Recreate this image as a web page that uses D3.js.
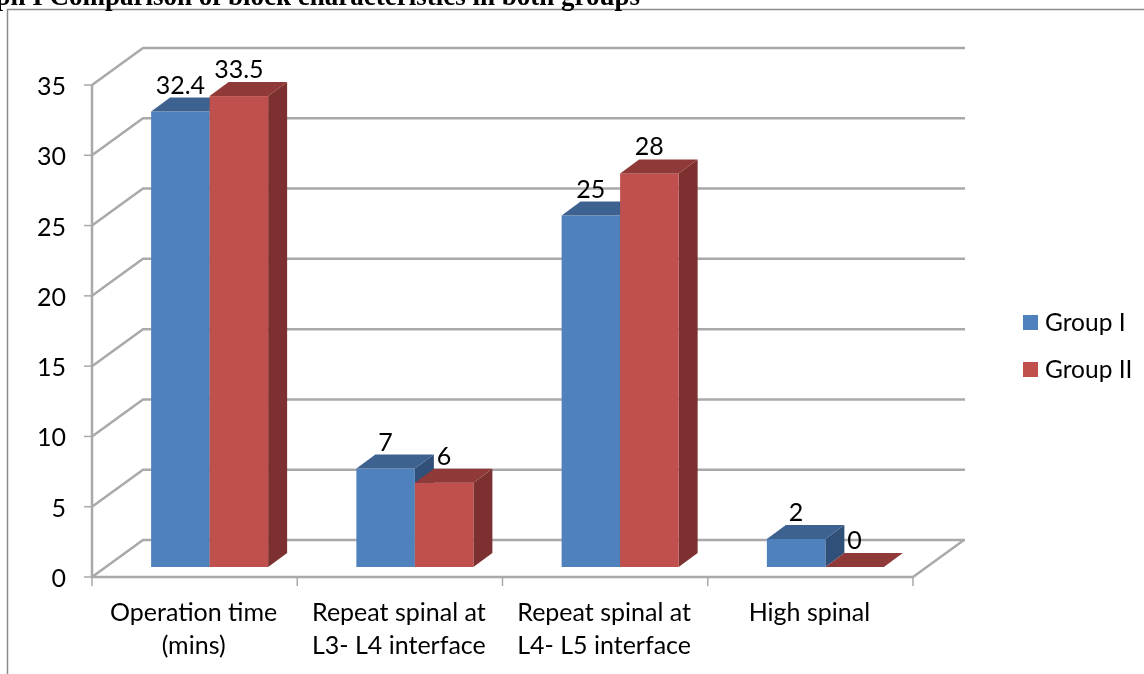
<!DOCTYPE html>
<html>
<head>
<meta charset="utf-8">
<script src="https://cdn.jsdelivr.net/npm/d3@7"></script>
<style>
html, body { margin: 0; padding: 0; background: #fff; overflow: hidden; }
svg { filter: blur(0.4px); }
text { font-family: Lato, "Open Sans", sans-serif; fill: #000; }
</style>
</head>
<body>
<svg id="chart" width="1144" height="674"></svg>
<script>
var categories = [['Operation time', '(mins)'], ['Repeat spinal at', 'L3- L4 interface'], ['Repeat spinal at', 'L4- L5 interface'], ['High spinal']];
var series = ['Group I', 'Group II'];
var groupI = [32.4, 7, 25, 2];
var groupII = [33.5, 6, 28, 0];
var ticks = [0, 5, 10, 15, 20, 25, 30, 35];

var colors = {
	'Group I': {front: '#4f81bd', top: '#3d6290', side: '#30507a'},
	'Group II': {front: '#c0504d', top: '#8f3a38', side: '#7c302f'}
};
var grid_col = '#a9a9a9';

var svg = d3.select('#chart');

// frame + title, both run off the page like in the scan
svg.append('path').attr('d', 'M7.5,674V9.5H1144').attr('fill', 'none').attr('stroke', '#8c8c8c').attr('stroke-width', 1.5);
svg.append('text').attr('x', 640).attr('y', 5).attr('text-anchor', 'end')
	.style('font-family', '"Liberation Serif", serif').style('font-weight', 'bold').style('font-size', '27px')
	.text('Graph I Comparison of block characteristics in both groups');

var x0 = d3.scaleBand().domain(d3.range(categories.length)).range([92, 913]);
var y = d3.scaleLinear().domain([0, 35]).range([577, 85]);
var x1 = d3.scaleBand().domain(series).range([0, x0.bandwidth()]).paddingOuter(0.754);

// depth of the 3d box, and of the bars sitting inside it
var wall_dx = 51, wall_dy = -37;
var bar_dx = 19, bar_dy = -14;
var bar_shift = 15, bar_lift = -10;

// side wall diagonals and back wall lines
var walls = svg.append('g').attr('fill', 'none').attr('stroke', grid_col).attr('stroke-width', 2.5);
walls.selectAll('path').data(ticks).enter().append('path')
	.attr('d', d => d3.line()([[92, y(d)], [92 + wall_dx, y(d) + wall_dy], [913 + wall_dx + 1, y(d) + wall_dy]]));
walls.append('path').attr('d', d3.line()([[913, y(0)], [913 + wall_dx, y(0) + wall_dy]]));

// axes
svg.append('path').attr('d', d3.line()([[92, y(35)], [92, y(0)], [913, y(0)]]))
	.attr('fill', 'none').attr('stroke', grid_col).attr('stroke-width', 2.5);
var tick_g = svg.append('g').attr('stroke', grid_col).attr('stroke-width', 1.5);
tick_g.selectAll('.ty').data(ticks).enter().append('line').attr('class', 'ty')
	.attr('x1', 84).attr('x2', 92).attr('y1', d => y(d)).attr('y2', d => y(d));
tick_g.selectAll('.tx').data(d3.range(categories.length + 1)).enter().append('line').attr('class', 'tx')
	.attr('x1', d => 92 + d * x0.step()).attr('x2', d => 92 + d * x0.step()).attr('y1', y(0)).attr('y2', 586);

svg.selectAll('.ylab').data(ticks).enter().append('text').attr('class', 'ylab')
	.attr('x', 66).attr('y', d => y(d) + 10).attr('text-anchor', 'end').style('font-size', '25px')
	.text(d => d);

// bars, back to front
var base = y(0) + bar_lift;
var per_unit = (y(0) - y(1));
function bar_data(name, vals) {
	return vals.map((v, i) => ({name: name, i: i, v: v}));
}
var bars = bar_data('Group I', groupI).concat(bar_data('Group II', groupII));
bars.sort((a, b) => a.i - b.i);
var w = x1.bandwidth();
var bar_g = svg.selectAll('.bar').data(bars).enter().append('g').attr('class', 'bar');
function bar_left(d) { return x0(d.i) + x1(d.name) + bar_shift; }
function bar_top(d) { return base - d.v * per_unit; }
bar_g.append('path').attr('fill', d => colors[d.name].side)
	.attr('d', d => d3.line()([[bar_left(d) + w, base], [bar_left(d) + w + bar_dx, base + bar_dy], [bar_left(d) + w + bar_dx, bar_top(d) + bar_dy], [bar_left(d) + w, bar_top(d)]]) + 'Z');
bar_g.append('rect').attr('fill', d => colors[d.name].front)
	.attr('x', bar_left).attr('y', bar_top).attr('width', w).attr('height', d => base - bar_top(d));
bar_g.append('path').attr('fill', d => colors[d.name].top)
	.attr('d', d => d3.line()([[bar_left(d), bar_top(d)], [bar_left(d) + bar_dx, bar_top(d) + bar_dy], [bar_left(d) + w + bar_dx, bar_top(d) + bar_dy], [bar_left(d) + w, bar_top(d)]]) + 'Z');

// value labels
svg.selectAll('.val').data(bars).enter().append('text').attr('class', 'val')
	.attr('x', d => bar_left(d) + w / 2).attr('y', d => bar_top(d) - 18).attr('text-anchor', 'middle')
	.style('font-size', '25px').text(d => d.v);

// category labels
var cat = svg.selectAll('.cat').data(categories).enter().append('text').attr('class', 'cat')
	.attr('text-anchor', 'middle').style('font-size', '25px');
cat.selectAll('tspan').data((d, i) => d.map((s, k) => ({s: s, k: k, i: i}))).enter().append('tspan')
	.attr('x', d => x0(d.i) + x0.bandwidth() / 2 - 1).attr('y', d => 621 + d.k * 33).text(d => d.s);

// legend
var leg_y = d3.scalePoint().domain(series).range([322, 369]);
svg.selectAll('.lsw').data(series).enter().append('rect').attr('class', 'lsw')
	.attr('x', 1023).attr('y', d => leg_y(d) - 7).attr('width', 15).attr('height', 15)
	.attr('fill', d => colors[d].front);
svg.selectAll('.ltx').data(series).enter().append('text').attr('class', 'ltx')
	.attr('x', 1045).attr('y', d => leg_y(d) + 9).style('font-size', '24.5px').text(d => d);
</script>
</body>
</html>
